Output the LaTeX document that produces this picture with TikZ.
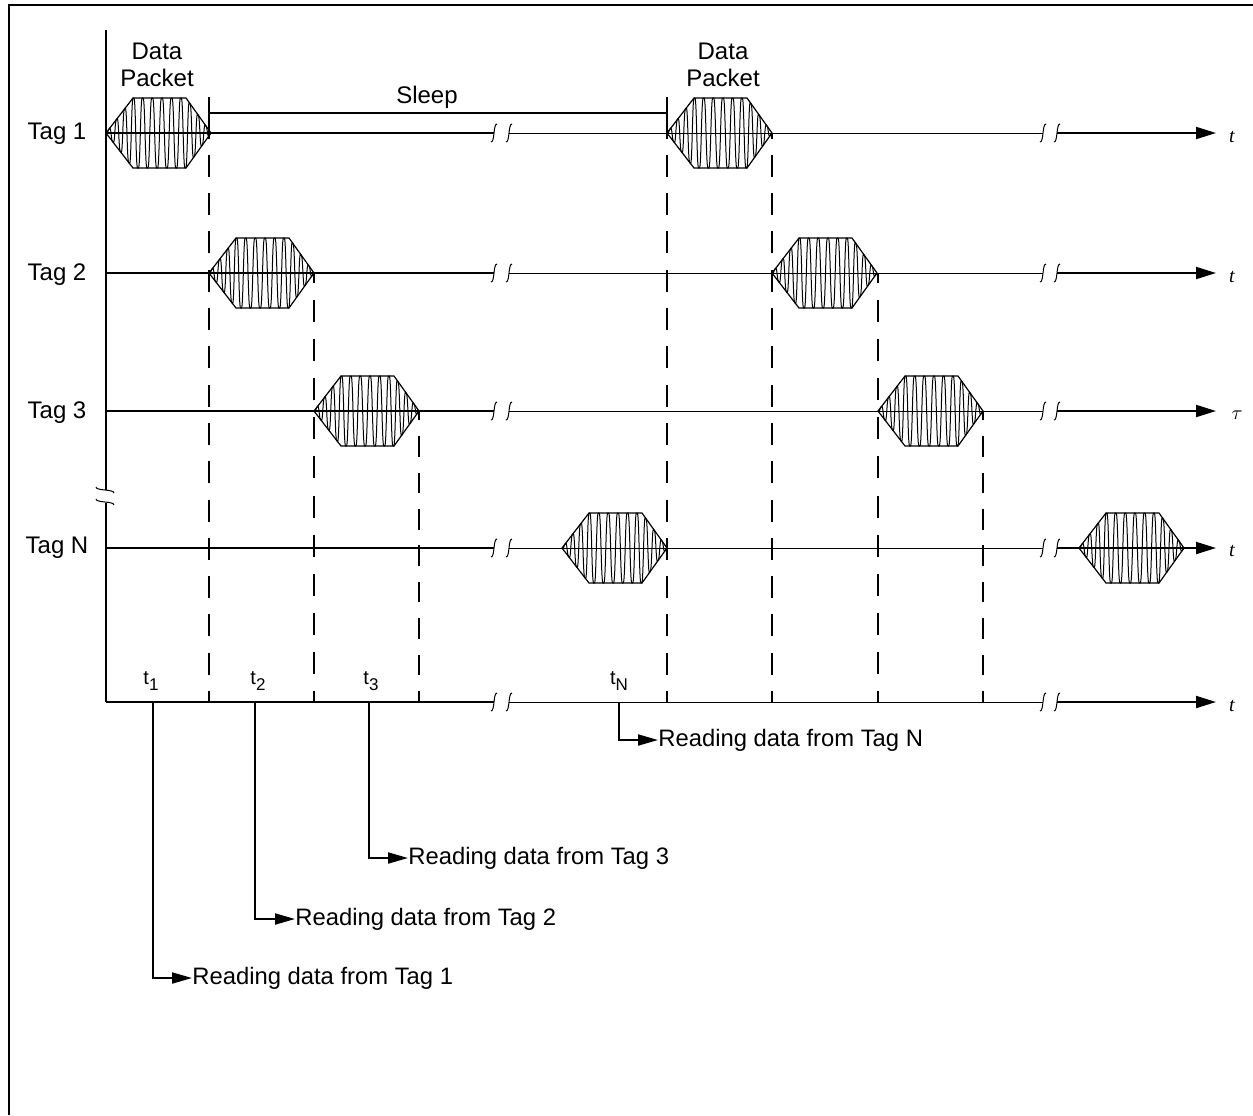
\documentclass[tikz,border=0pt]{standalone}
\usepackage{fontspec}
\setmainfont{Liberation Sans}
\newfontfamily\tfont{Liberation Serif}
\usetikzlibrary{arrows.meta}
\newcommand{\tsub}[1]{t\raisebox{-3pt}{\fontsize{8.5}{8.5}\selectfont #1}}

\begin{document}
\begin{tikzpicture}[
		x=0.5pt, y=-0.5pt,
		declare function={
			hull(\u)=min(35, \u*1.3, (105-\u)*1.4);
			wave(\u)=sin(\u*37 + 2000*(\u/105-0.5)^3);
		},
		every node/.style={font=\fontsize{12}{13.5}\selectfont, inner sep=0pt},
		tagname/.style={align=center},
		small/.style={font=\fontsize{10}{12}\selectfont},
		reading/.style={anchor=west, font=\fontsize{11.9}{14}\selectfont},
		axislabel/.style={font=\tfont\itshape\fontsize{10}{12}\selectfont},
		lane/.style={line width=1pt},
		thinlane/.style={line width=0.5pt},
		axis/.style={lane, -{Triangle[length=10pt, width=6pt]}},
		slot/.style={line width=1pt, dash pattern=on 11pt off 8.15pt, dash phase=5.5pt},
		slotwide/.style={slot, dash pattern=on 11pt off 8.55pt, dash phase=5.5pt},
		slotshort/.style={slot, dash pattern=on 10.25pt off 7.95pt, dash phase=4.75pt},
		lead/.style={line width=1pt, -{Triangle[length=10pt, width=5.5pt]}},
		gapmark/.pic={
			\draw[line width=0.5pt] (-3,9) .. controls (1,9) and (-1,-9) .. (3,-9);
		},
		packet/.pic={
			\draw[line width=0.6pt] (0,0) -- (27,-35) -- (80,-35) -- (105,0) -- (80,35) -- (27,35) -- cycle;
			\draw[line width=0.5pt] plot[domain=0:105, samples=500]
				(\x, {hull(\x)*wave(\x)*(1.5-0.5*wave(\x)*wave(\x))});
		}
	]
		\useasboundingbox (0,0) rectangle (1253,1115);
		\draw[line width=1pt] (9,1115) -- (9,5) -- (1253,5);

		% columns of the time axis
		\coordinate (origin) at (106,702);
		\coordinate (top) at (106,30);
		\coordinate (slota) at (209,702);
		\coordinate (slotb) at (314,702);
		\coordinate (slotc) at (419,702);
		\coordinate (slotd) at (667,702);
		\coordinate (slote) at (772,702);
		\coordinate (slotf) at (878,702);
		\coordinate (slotg) at (983,702);
		\coordinate (gapa) at (494,702);
		\coordinate (gapb) at (509,702);
		\coordinate (gapc) at (1043,702);
		\coordinate (gapd) at (1057,702);
		\coordinate (tip) at (1216,702);

		% lanes of the tags
		\coordinate (laneone) at (106,133);
		\coordinate (lanetwo) at (106,273);
		\coordinate (lanethree) at (106,411);
		\coordinate (lanen) at (106,548);

		\node[tagname] (tagone) at (57,134) {Tag 1};
		\node[tagname] (tagtwo) at (57,275) {Tag 2};
		\node[tagname] (tagthree) at (57,413) {Tag 3};
		\node[tagname] (tagn) at (57,548) {Tag N};
		\node[tagname] (packeta) at (157,65) {Data\\Packet};
		\node[tagname] (packetb) at (723,65) {Data\\Packet};
		\node[tagname] (sleep) at (427,97) {Sleep};

		\node[axislabel] (ta) at (1232,137) {t};
		\node[axislabel] (tb) at (1232,277) {t};
		\node[axislabel] (tc) at (1237,415) {$\tau$};
		\node[axislabel] (tn) at (1232,551) {t};
		\node[axislabel] (tt) at (1232,706) {t};

		\node[small] (tone) at (151,681) {\tsub{1}};
		\node[small] (ttwo) at (258,681) {\tsub{2}};
		\node[small] (tthree) at (371,681) {\tsub{3}};
		\node[small] (tnn) at (619,681) {\tsub{N}};

		\node[reading] (readone) at (192,978) {Reading data from Tag 1};
		\node[reading] (readtwo) at (295,919) {Reading data from Tag 2};
		\node[reading] (readthree) at (408,858) {Reading data from Tag 3};
		\node[reading] (readn) at (658,740) {Reading data from Tag N};

		\coordinate (leada) at (153,702);
		\coordinate (leadb) at (255,702);
		\coordinate (leadc) at (369,702);
		\coordinate (leadn) at (619,702);

		% vertical axis
		\draw[lane] (top) -- (106,490);
		\draw[lane] (106,503) -- (origin);
		\pic[rotate=-90] at (105,490) {gapmark};
		\pic[rotate=-90] at (105,502) {gapmark};

		% lanes
		\draw[lane] (laneone) -- (gapa|-laneone);
		\draw[thinlane] (gapb|-laneone) -- (gapc|-laneone);
		\draw[axis] (gapd|-laneone) -- (tip|-laneone);
		\draw[lane] (lanetwo) -- (gapa|-lanetwo);
		\draw[thinlane] (gapb|-lanetwo) -- (gapc|-lanetwo);
		\draw[axis] (gapd|-lanetwo) -- (tip|-lanetwo);
		\draw[lane] (lanethree) -- (gapa|-lanethree);
		\draw[thinlane] (gapb|-lanethree) -- (gapc|-lanethree);
		\draw[axis] (gapd|-lanethree) -- (tip|-lanethree);
		\draw[lane] (lanen) -- (gapa|-lanen);
		\draw[thinlane] (gapb|-lanen) -- (gapc|-lanen);
		\draw[axis] (gapd|-lanen) -- (tip|-lanen);
		\draw[lane] (origin) -- (gapa);
		\draw[thinlane] (gapb) -- (gapc);
		\draw[axis] (gapd) -- (tip);

		\pic at (gapa|-laneone) {gapmark};
		\pic at (gapb|-laneone) {gapmark};
		\pic at (gapc|-laneone) {gapmark};
		\pic at (gapd|-laneone) {gapmark};
		\pic at (gapa|-lanetwo) {gapmark};
		\pic at (gapb|-lanetwo) {gapmark};
		\pic at (gapc|-lanetwo) {gapmark};
		\pic at (gapd|-lanetwo) {gapmark};
		\pic at (gapa|-lanethree) {gapmark};
		\pic at (gapb|-lanethree) {gapmark};
		\pic at (gapc|-lanethree) {gapmark};
		\pic at (gapd|-lanethree) {gapmark};
		\pic at (gapa|-lanen) {gapmark};
		\pic at (gapb|-lanen) {gapmark};
		\pic at (gapc|-lanen) {gapmark};
		\pic at (gapd|-lanen) {gapmark};
		\pic at (gapa) {gapmark};
		\pic at (gapb) {gapmark};
		\pic at (gapc) {gapmark};
		\pic at (gapd) {gapmark};

		% packets
		\pic at (laneone) {packet};
		\pic at (slotd|-laneone) {packet};
		\pic at (slota|-lanetwo) {packet};
		\pic at (slote|-lanetwo) {packet};
		\pic at (slotb|-lanethree) {packet};
		\pic at (slotf|-lanethree) {packet};
		\pic at (562,548) {packet};
		\pic at (1079,548) {packet};

		% slots
		\draw[slot] (slota) -- (slota|-laneone);
		\draw[slotwide] (slotb) -- (slotb|-lanetwo);
		\draw[slotshort] (slotc) -- (slotc|-lanethree);
		\draw[slot] (slotd) -- (slotd|-laneone);
		\draw[slot] (slote) -- (slote|-laneone);
		\draw[slotwide] (slotf) -- (slotf|-lanetwo);
		\draw[slotshort] (slotg) -- (slotg|-lanethree);

		% sleep bracket
		\draw[lane] (209,97) -- (slota|-laneone);
		\draw[lane] (667,97) -- (slotd|-laneone);
		\draw[lane] (209,113) -- (667,113);

		% reading leads
		\draw[lead] (leada) |- (readone.west);
		\draw[lead] (leadb) |- (readtwo.west);
		\draw[lead] (leadc) |- (readthree.west);
		\draw[lead] (leadn) |- (readn.west);
	\end{tikzpicture}
\end{document}
